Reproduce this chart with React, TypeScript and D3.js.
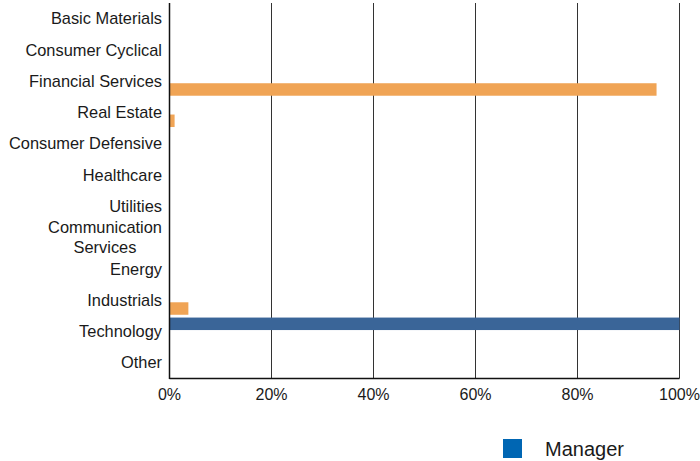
import React from "react";
import * as d3 from "d3";

const categories = [
  "Basic Materials",
  "Consumer Cyclical",
  "Financial Services",
  "Real Estate",
  "Consumer Defensive",
  "Healthcare",
  "Utilities",
  "Communication Services",
  "Energy",
  "Industrials",
  "Technology",
  "Other",
];
const managerValues = [0, 0, 0, 0, 0, 0, 0, 0, 0, 0, 100, 0];
const benchmarkValues = [0, 0, 95.5, 1.0, 0, 0, 0, 0, 0, 3.7, 0, 0];
const xTicks = [0, 20, 40, 60, 80, 100];
const seriesNames = ["Manager", "Benchmark"];

const W = 700;
const H = 461;
const M = { left: 169.5, right: 679.5, top: 3, bottom: 378.5 };
const FONT = "Arial, 'Liberation Sans', Helvetica, sans-serif";

export default function App() {
  const x = d3.scaleLinear().domain([0, 100]).range([M.left, M.right]);
  const y = d3.scaleBand<string>().domain(categories).range([M.top, M.bottom]);
  const inner = d3
    .scaleBand<string>()
    .domain(seriesNames)
    .range([y.bandwidth() / 2 - 14, y.bandwidth() / 2 + 14.5])
    .paddingInner(0.22);
  const colors: Record<string, string> = {
    Manager: "#3A6598",
    Benchmark: "#F0A455",
  };
  const series = [
    { name: "Manager", values: managerValues },
    { name: "Benchmark", values: benchmarkValues },
  ];

  return (
    <svg
      width={W}
      height={H}
      style={{ position: "absolute", left: 0, top: 0, fontFamily: FONT }}
    >
      <rect width={W} height={H} fill="#fff" />
      {xTicks.map((t) => (
        <line
          key={"g" + t}
          x1={x(t)}
          x2={x(t)}
          y1={M.top}
          y2={M.bottom}
          stroke="#333"
          strokeWidth={1}
        />
      ))}
      {series.map((s) =>
        s.values.map((v, i) =>
          v > 0 ? (
            <rect
              key={s.name + i}
              x={x(0)}
              y={(y(categories[i]) as number) + (inner(s.name) as number)}
              width={x(v) - x(0)}
              height={inner.bandwidth()}
              fill={colors[s.name]}
            />
          ) : null
        )
      )}
      <line x1={M.left} x2={M.left} y1={M.top} y2={M.bottom + 0.5} stroke="#111" strokeWidth={1.5} />
      <line x1={M.left} x2={M.right} y1={M.bottom} y2={M.bottom} stroke="#111" strokeWidth={1.5} />
      {categories.map((c) => {
        const cy = (y(c) as number) + y.bandwidth() / 2;
        if (c === "Communication Services") {
          return (
            <text key={c} fontSize={16.4} fill="#1a1a1a" textAnchor="middle">
              <tspan x={105} y={cy - 4.5}>Communication</tspan>
              <tspan x={105} y={cy + 15}>Services</tspan>
            </text>
          );
        }
        return (
          <text key={c} x={162} y={cy + 5.6} fontSize={16.4} fill="#1a1a1a" textAnchor="end">
            {c}
          </text>
        );
      })}
      {xTicks.map((t) => (
        <text key={"t" + t} x={x(t)} y={M.bottom + 21} fontSize={16} fill="#1a1a1a" textAnchor="middle">
          {t + "%"}
        </text>
      ))}
      <rect x={503} y={439} width={19} height={19} fill="#0066B3" />
      <text x={545} y={455.5} fontSize={20} fill="#1a1a1a">
        Manager
      </text>
    </svg>
  );
}
